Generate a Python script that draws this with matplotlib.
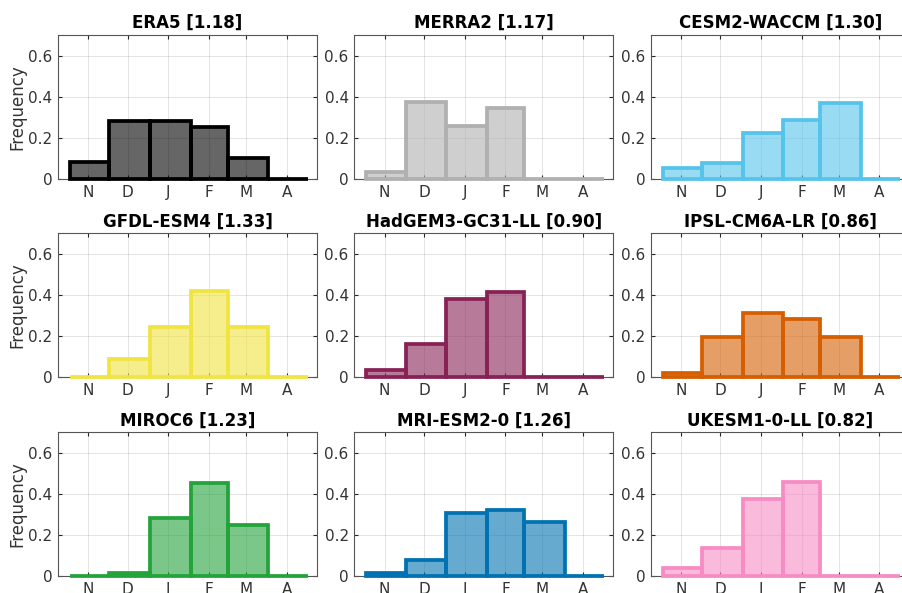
import matplotlib
matplotlib.use("Agg")
import matplotlib.pyplot as plt
import numpy as np

# ---- data ----
months = ["N", "D", "J", "F", "M", "A"]
days_in_month = [30, 31, 31, 28, 31, 30]  # Nov..Apr

models = ["ERA5", "MERRA2", "CESM2-WACCM",
          "GFDL-ESM4", "HadGEM3-GC31-LL", "IPSL-CM6A-LR",
          "MIROC6", "MRI-ESM2-0", "UKESM1-0-LL"]
scores = ["1.18", "1.17", "1.30", "1.33", "0.90", "0.86", "1.23", "1.26", "0.82"]

era5 = [0.085, 0.283, 0.283, 0.254, 0.103, 0.0]
merra2 = [0.032, 0.372, 0.257, 0.346, 0.0, 0.0]
cesm2 = [0.052, 0.076, 0.224, 0.288, 0.370, 0.0]
gfdl = [0.0, 0.090, 0.246, 0.420, 0.246, 0.0]
hadgem = [0.034, 0.163, 0.383, 0.414, 0.0, 0.0]
ipsl = [0.020, 0.194, 0.311, 0.285, 0.194, 0.0]
miroc = [0.0, 0.016, 0.281, 0.455, 0.250, 0.0]
mri = [0.018, 0.080, 0.310, 0.322, 0.265, 0.0]
ukesm = [0.041, 0.136, 0.374, 0.456, 0.0, 0.0]

series = [era5, merra2, cesm2, gfdl, hadgem, ipsl, miroc, mri, ukesm]
colors = ["#000000", "#b0b0b0", "#56c4ea", "#f0e442", "#882255",
          "#d55e00", "#23a33a", "#0072b2", "#f78cc4"]

yticks = [0, 0.2, 0.4, 0.6]
yticklabels = ["0", "0.2", "0.4", "0.6"]

# ---- figure ----
W, H = 903, 593
fig = plt.figure(figsize=(W / 100, H / 100), dpi=100)
plt.rcParams['font.family'] = ['DejaVu Sans']

edges = np.concatenate([[0], np.cumsum(days_in_month)])  # days since Nov 1
tick_pos = edges[:-1] + 14  # 15th of each month
widths = np.diff(edges)

col_left = [58, 354.3, 650.7]
row_top = [35, 233.3, 432.3]
ax_w, ax_h = 259, 144

axcol = "#262626"
for i, (name, sc, vals, c) in enumerate(zip(models, scores, series, colors)):
    r, cc = divmod(i, 3)
    left = col_left[cc] / W
    bottom = 1 - (row_top[r] + ax_h) / H
    ax = fig.add_axes([left, bottom, ax_w / W, ax_h / H])
    for x0, w, v in zip(edges[:-1], widths, vals):
        ax.bar(x0, v, width=w, align="edge", color=matplotlib.colors.to_rgba(c, 0.6),
               edgecolor=c, linewidth=2.7, zorder=3, clip_on=False)
    ax.set_xlim(-9, 188)
    ax.set_ylim(0, 0.7)
    ax.set_xticks(tick_pos)
    ax.set_xticklabels(months)
    ax.set_yticks(yticks)
    ax.set_yticklabels(yticklabels)
    ax.grid(True, color="#000000", alpha=0.10, linewidth=0.8, zorder=0)
    ax.set_axisbelow(True)
    ax.tick_params(direction="in", length=3, width=0.8, colors=axcol,
                   labelsize=11, top=True, right=True, pad=4)
    for lbl in ax.get_xticklabels() + ax.get_yticklabels():
        lbl.set_color("#333333")
    for s in ax.spines.values():
        s.set_color("#555555")
        s.set_linewidth(0.8)
    ax.set_title(f"{name} [{sc}]", fontsize=12, fontweight="bold", pad=5)
    if cc == 0:
        ax.set_ylabel("Frequency", fontsize=12, color="#333333", labelpad=1)

fig.savefig("out.png", dpi=100)
